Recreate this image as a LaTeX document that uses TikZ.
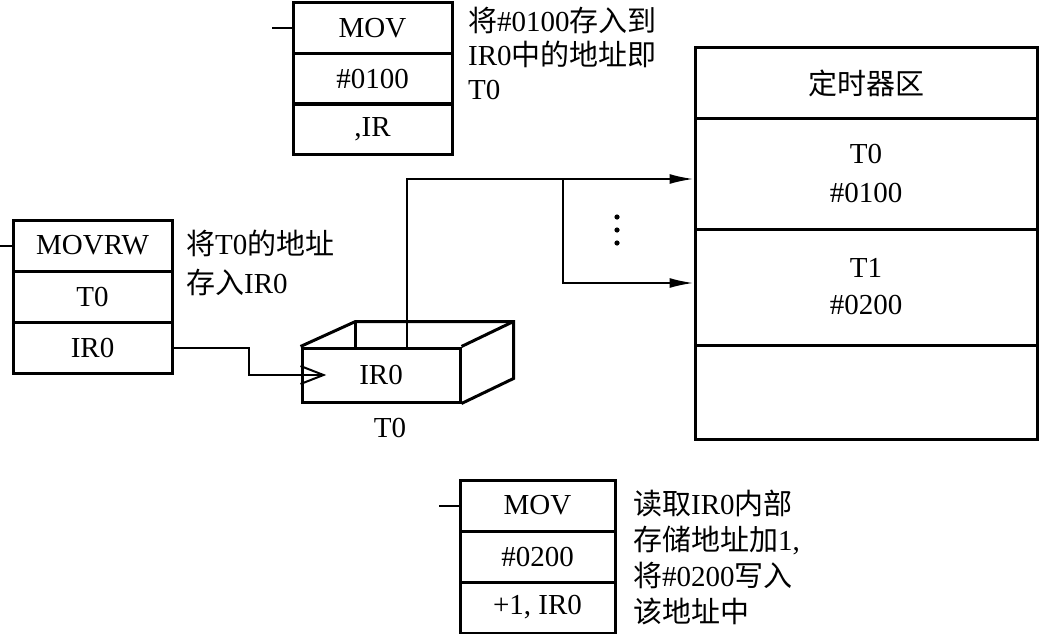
\documentclass[tikz,border=0pt]{standalone}
\usepackage{fontspec}
\setmainfont{Liberation Serif}
\newfontfamily\cjk{Noto Sans CJK SC}
\newcommand{\zh}[1]{{\cjk #1}}
\usetikzlibrary{arrows.meta,calc,positioning}
\tikzset{
  every node/.style={font=\fontsize{29}{34}\selectfont},
  cell/.style={draw, line width=3pt, minimum height=51pt, inner sep=0pt},
  area/.style={draw, line width=3pt, minimum width=342pt, inner sep=0pt, align=center},
  note/.style={anchor=north west, align=left, inner sep=0pt},
  wire/.style={line width=2pt},
  arr/.style={wire, -{Latex[length=24pt,width=10pt]}},
}
\begin{document}
\begin{tikzpicture}[x=1pt,y=-1pt]
  \useasboundingbox (0,0) rectangle (1039,634);
  % instruction boxes
  \node[cell, minimum width=159pt] (a1) at (372.5,28) {MOV};
  \node[cell, minimum width=159pt] (a2) at (372.5,79) {\#0100};
  \node[cell, minimum width=159pt] (a3) at (372.5,129) {,IR};
  \node[cell, minimum width=159pt] (b1) at (92.5,245.5) {MOVRW};
  \node[cell, minimum width=159pt] (b2) at (92.5,296.5) {T0};
  \node[cell, minimum width=159pt] (b3) at (92.5,347.5) {IR0};
  \node[cell, minimum width=155pt] (c1) at (537.5,505.5) {MOV};
  \node[cell, minimum width=155pt] (c2) at (537.5,556.5) {\#0200};
  \node[cell, minimum width=155pt] (c3) at (537.5,607.5) {+1, IR0};
  \draw[wire] (a1.west) -- ++(-20,0);
  \draw[wire] (b1.west) -- ++(-13,0);
  \draw[wire] (c1.west) -- ++(-20,0);
  \node[note] (n1) at (468,7) {\zh{将}\#0100\zh{存入到}\\IR0\zh{中的地址即}\\T0};
  \node[note, font=\fontsize{29}{39}\selectfont] (n2) at (186,230) {\zh{将}T0\zh{的地址}\\\zh{存入}IR0};
  \node[note, font=\fontsize{29}{36}\selectfont] (n3) at (633,490) {\zh{读取}IR0\zh{内部}\\\zh{存储地址加}1,\\\zh{将}\#0200\zh{写入}\\\zh{该地址中}};
  % timer area
  \node[area, minimum height=70pt] (t) at (866,83) {\zh{定时器区}};
  \node[area, minimum height=111pt, font=\fontsize{29}{39}\selectfont] (t0) at (866,173.5) {T0\\\#0100};
  \node[area, minimum height=116pt, font=\fontsize{29}{37}\selectfont] (t1) at (866,287) {T1\\\#0200};
  \node[area, minimum height=94pt] (t2) at (866,392) {};
  % open box IR0
  \node[draw, line width=3pt, minimum width=158pt, minimum height=54pt, inner sep=0pt] (ir) at (381,375) {IR0};
  \node (irl) at (390,428) {T0};
  \draw[line width=3pt] (ir.north west) -- ++(55,-25) coordinate (bl)
    -- ($(ir.north east)+(52,-25)$) coordinate (br)
    -- ($(ir.south east)+(52,-25)$) -- (ir.south east);
  \draw[line width=3pt] (ir.north east) -- (br);
  \draw[line width=3pt] (bl) -- (bl |- ir.north);
  \coordinate (tip) at ($(ir.west)+(23,0)$);
  \draw[wire] ($(ir.west)+(0,-9)$) -- (tip) -- ($(ir.west)+(0,9)$);
  \draw[wire] (b3.east) -| ($(b3.east)!.5!(tip)$) |- (tip);
  % pointers into timer area
  \coordinate (j1) at (407,179);
  \coordinate (j2) at (563,179);
  \coordinate (j3) at (563,283);
  \draw[arr] (ir.north -| j1) -- (j1) -- (t0.west |- j1);
  \draw[arr] (j2) -- (j3) -- (t1.west |- j3);
  \foreach \y in {217,230,243}
    \fill (617,\y) circle (2.6pt);
\end{tikzpicture}
\end{document}
